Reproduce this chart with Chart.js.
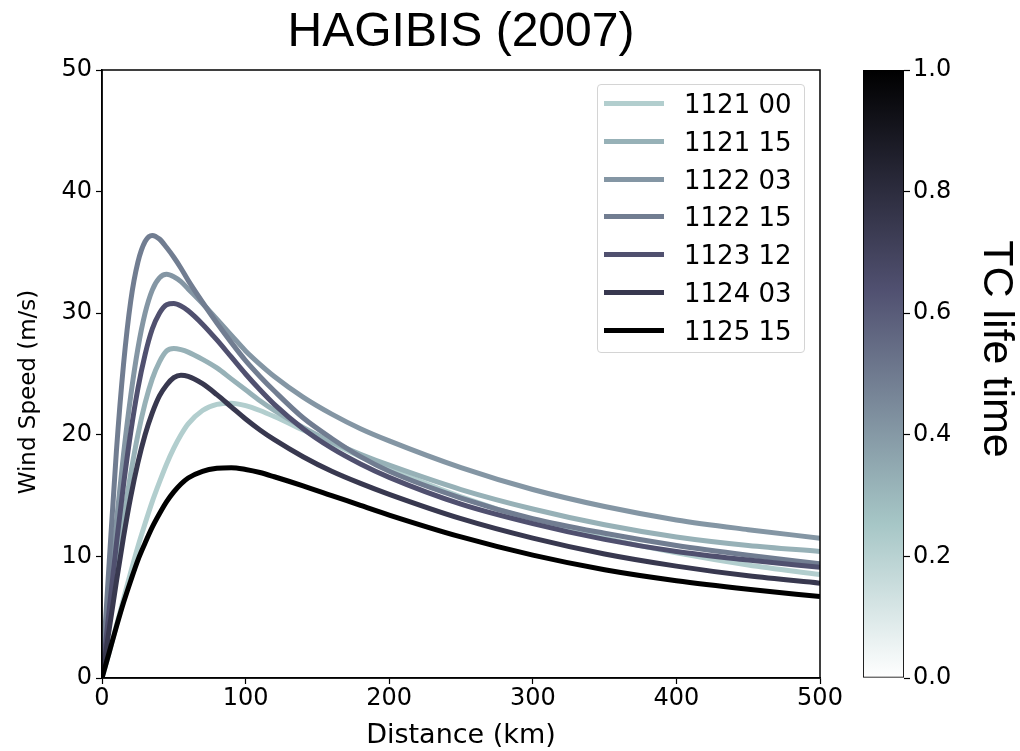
<!DOCTYPE html>
<html>
<head>
<meta charset="utf-8">
<script src="https://cdn.jsdelivr.net/npm/chart.js@4.4.0/dist/chart.umd.min.js"></script>
<style>
  html, body { margin: 0; padding: 0; background: #fff; }
  #wrap { position: relative; width: 1020px; height: 751px; }
  #main { position: absolute; left: 0; top: 0; }
  #cbar { position: absolute; left: 840px; top: 0; }
  #legend {
    position: absolute; left: 597px; top: 84px; width: 208px; height: 269px;
    box-sizing: border-box; border: 1px solid #d4d4d4; border-radius: 4px;
    background: rgba(255,255,255,0.8);
    font-family: "DejaVu Sans", sans-serif; font-size: 26px; color: #000;
  }
  #legend .row { position: absolute; left: 0; height: 30px; width: 100%; }
  #legend .sw { position: absolute; left: 6px; top: 12px; width: 60px; height: 5px; }
  #legend .lb { position: absolute; left: 86px; top: 0; line-height: 30px; white-space: nowrap; }
</style>
</head>
<body>
<div id="wrap">
  <canvas id="main" width="924" height="751"></canvas>
  <canvas id="cbar" width="180" height="751"></canvas>
  <div id="legend"></div>
</div>
<script>
// distance from centre (km)
const distance = [0, 5, 10, 15, 20, 25, 30, 35, 40, 45, 50, 55, 60, 70, 80, 90, 100, 110, 120, 140, 160, 180, 200, 250, 300, 350, 400, 450, 500];

// wind speed profiles (m/s)
const w112100 = [0, 2.1, 4.3, 6.5, 8.7, 10.8, 12.7, 14.5, 16.1, 17.6, 18.9, 20.0, 20.9, 22.0, 22.5, 22.6, 22.4, 22.0, 21.5, 20.4, 19.3, 18.2, 17.2, 14.9, 13.0, 11.5, 10.3, 9.3, 8.5];
const w112115 = [0, 4.6, 9.0, 13.1, 16.8, 20.0, 22.6, 24.6, 26.0, 26.9, 27.1, 27.0, 26.8, 26.2, 25.5, 24.6, 23.7, 22.8, 22.0, 20.6, 19.4, 18.4, 17.5, 15.5, 13.9, 12.6, 11.6, 10.9, 10.4];
const w112203 = [0, 6.6, 12.8, 18.4, 23.2, 27.1, 30.0, 31.9, 32.9, 33.2, 33.0, 32.6, 32.0, 30.8, 29.5, 28.2, 26.9, 25.8, 24.8, 23.1, 21.7, 20.5, 19.5, 17.3, 15.5, 14.1, 13.0, 12.2, 11.5];
const w112215 = [0, 9.5, 18.6, 25.8, 31.0, 34.2, 35.9, 36.4, 36.1, 35.4, 34.6, 33.7, 32.7, 30.9, 29.2, 27.6, 26.1, 24.8, 23.6, 21.4, 19.7, 18.2, 17.0, 14.8, 13.1, 11.9, 10.9, 10.1, 9.4];
const w112312 = [0, 5.6, 11.0, 15.9, 20.2, 23.8, 26.6, 28.7, 30.0, 30.7, 30.8, 30.6, 30.2, 29.1, 27.8, 26.4, 25.0, 23.7, 22.5, 20.5, 18.9, 17.6, 16.5, 14.3, 12.7, 11.4, 10.4, 9.7, 9.1];
const w112403 = [0, 4.0, 7.9, 11.6, 14.9, 17.7, 20.0, 21.8, 23.2, 24.1, 24.7, 24.9, 24.8, 24.2, 23.3, 22.3, 21.3, 20.4, 19.6, 18.2, 17.0, 16.0, 15.1, 13.1, 11.5, 10.2, 9.2, 8.4, 7.8];
const w112515 = [0, 2.1, 4.2, 6.2, 8.0, 9.7, 11.1, 12.4, 13.5, 14.5, 15.3, 15.95, 16.45, 17.0, 17.25, 17.3, 17.15, 16.9, 16.55, 15.8, 15.0, 14.2, 13.4, 11.6, 10.1, 8.9, 8.0, 7.3, 6.7];

const seriesLabels = ['1121 00', '1121 15', '1122 03', '1122 15', '1123 12', '1124 03', '1125 15'];
const seriesValues = [w112100, w112115, w112203, w112215, w112312, w112403, w112515];
const seriesColors = ['#b2cece', '#97b1b7', '#8496a4', '#717d91', '#50506f', '#38384f', '#000000'];

const xTicks = [0, 100, 200, 300, 400, 500];
const yTicks = [0, 10, 20, 30, 40, 50];
const cbRange = [0, 1];
const cbTicks = [0, 0.2, 0.4, 0.6, 0.8, 1.0];
const yLabel = 'Wind Speed (m/s)';
const cbLabel = 'TC life time';

const tickFont = { family: 'DejaVu Sans', size: 24 };
const labelFont = { family: 'DejaVu Sans', size: 27, lineHeight: 1.1 };

const datasets = seriesValues.map((vals, i) => ({
  label: seriesLabels[i],
  data: vals.map((v, j) => ({ x: distance[j], y: v })),
  borderColor: seriesColors[i],
  borderWidth: 5,
  pointRadius: 0,
  fill: false,
  cubicInterpolationMode: 'monotone',
  order: seriesValues.length - i   // later series on top, like matplotlib
}));

// rotated text helper for the axis labels
function drawRotated(ctx, text, x, y, angle, font) {
  ctx.save();
  ctx.translate(x, y);
  ctx.rotate(angle);
  ctx.font = font;
  ctx.fillStyle = '#000';
  ctx.textAlign = 'center';
  ctx.textBaseline = 'middle';
  ctx.fillText(text, 0, 0);
  ctx.restore();
}

const frame = {
  id: 'frame',
  afterDatasetsDraw(chart) {
    const { ctx, chartArea: a } = chart;
    ctx.save();
    ctx.strokeStyle = '#000';
    ctx.lineWidth = 1.5;
    ctx.strokeRect(a.left, a.top, a.right - a.left, a.bottom - a.top);
    ctx.restore();
  },
  afterDraw(chart) {
    drawRotated(chart.ctx, yLabel, 29, 392, -Math.PI / 2, '23px "DejaVu Sans"');
  }
};

new Chart(document.getElementById('main'), {
  type: 'line',
  data: { datasets },
  plugins: [frame],
  options: {
    responsive: false,
    animation: false,
    layout: { padding: { left: 0, right: 104, top: 0, bottom: 0 } },
    plugins: {
      legend: { display: false },
      tooltip: { enabled: false },
      title: {
        display: true,
        fullSize: false,
        text: 'HAGIBIS (2007)',
        color: '#000',
        font: { family: 'Liberation Sans', size: 48, weight: 'normal', lineHeight: 1 },
        padding: { top: 9, bottom: 13 }
      }
    },
    scales: {
      x: {
        type: 'linear',
        min: xTicks[0], max: xTicks[xTicks.length - 1],
        afterBuildTicks: s => { s.ticks = xTicks.map(v => ({ value: v })); },
        afterFit: s => { s.height = 73; },
        ticks: { color: '#000', font: tickFont, padding: 0, maxRotation: 0 },
        grid: { drawOnChartArea: false, tickLength: 6, color: '#000', tickWidth: 1.2 },
        border: { color: '#000', width: 1.5 },
        title: { display: true, text: 'Distance (km)', color: '#000', font: labelFont, padding: { top: 0, bottom: 0 } }
      },
      y: {
        type: 'linear',
        min: yTicks[0], max: yTicks[yTicks.length - 1],
        afterBuildTicks: s => { s.ticks = yTicks.map(v => ({ value: v })); },
        afterFit: s => { s.width = 102; },
        ticks: { color: '#000', font: tickFont, padding: 4 },
        grid: { drawOnChartArea: false, tickLength: 6, color: '#000', tickWidth: 1.2 },
        border: { color: '#000', width: 1.5 }
      }
    }
  }
});

// colorbar label, drawn rotated like matplotlib's rotation=270
const cbTitle = {
  id: 'cbTitle',
  afterDraw(chart) {
    drawRotated(chart.ctx, cbLabel, 156, 349, Math.PI / 2, '43px "Liberation Sans"');
  }
};

// colorbar (bone_r)
new Chart(document.getElementById('cbar'), {
  type: 'bar',
  data: {
    labels: [''],
    datasets: [{
      data: [cbRange],
      backgroundColor: ctx => {
        const a = ctx.chart.chartArea;
        if (!a) return '#888';
        const g = ctx.chart.ctx.createLinearGradient(0, a.bottom, 0, a.top);
        g.addColorStop(0, 'rgb(255,255,255)');
        g.addColorStop(0.254, 'rgb(166,198,198)');
        g.addColorStop(0.635, 'rgb(81,81,113)');
        g.addColorStop(1, 'rgb(0,0,0)');
        return g;
      },
      borderColor: '#000',
      borderWidth: 1.2,
      borderSkipped: false,
      barPercentage: 1,
      categoryPercentage: 1
    }]
  },
  plugins: [cbTitle],
  options: {
    responsive: false,
    animation: false,
    layout: { padding: { left: 23, right: 0, top: 70, bottom: 73 } },
    plugins: { legend: { display: false }, tooltip: { enabled: false } },
    scales: {
      x: { display: false },
      y: {
        position: 'right',
        min: cbRange[0], max: cbRange[1],
        afterBuildTicks: s => { s.ticks = cbTicks.map(v => ({ value: v })); },
        afterFit: s => { s.width = 116; },
        ticks: { color: '#000', font: tickFont, padding: 3, callback: v => v.toFixed(1) },
        grid: { drawOnChartArea: false, tickLength: 6, color: '#000', tickWidth: 1.2 },
        border: { display: false }
      }
    }
  }
});

// legend inside the axes, upper right
const legend = document.getElementById('legend');
seriesLabels.forEach((lab, i) => {
  const row = document.createElement('div');
  row.className = 'row';
  row.style.top = (4 + i * 37.8) + 'px';
  const sw = document.createElement('div');
  sw.className = 'sw';
  sw.style.background = seriesColors[i];
  const lb = document.createElement('div');
  lb.className = 'lb';
  lb.textContent = lab;
  row.appendChild(sw);
  row.appendChild(lb);
  legend.appendChild(row);
});
</script>
</body>
</html>
